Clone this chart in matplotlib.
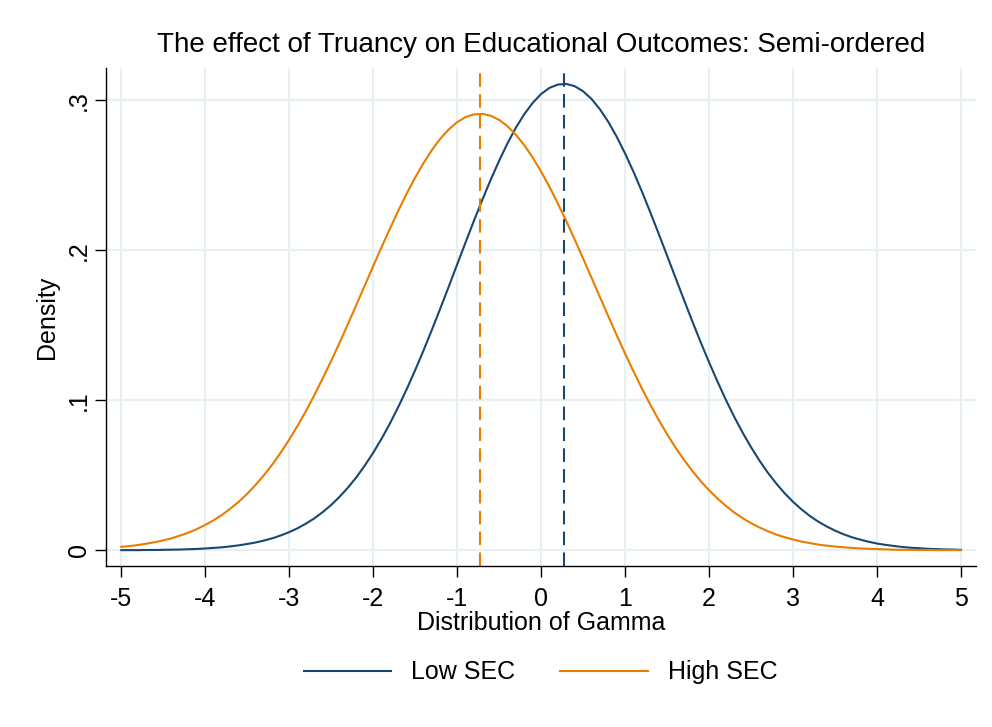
import numpy as np
import matplotlib
matplotlib.use("Agg")
import matplotlib.pyplot as plt

# density at steps of 0.1
gamma = [-5.0, -4.9, -4.8, -4.7, -4.6, -4.5, -4.4, -4.3, -4.2, -4.1,
         -4.0, -3.9, -3.8, -3.7, -3.6, -3.5, -3.4, -3.3, -3.2, -3.1,
         -3.0, -2.9, -2.8, -2.7, -2.6, -2.5, -2.4, -2.3, -2.2, -2.1,
         -2.0, -1.9, -1.8, -1.7, -1.6, -1.5, -1.4, -1.3, -1.2, -1.1,
         -1.0, -0.9, -0.8, -0.7, -0.6, -0.5, -0.4, -0.3, -0.2, -0.1,
         0.0, 0.1, 0.2, 0.3, 0.4, 0.5, 0.6, 0.7, 0.8, 0.9,
         1.0, 1.1, 1.2, 1.3, 1.4, 1.5, 1.6, 1.7, 1.8, 1.9,
         2.0, 2.1, 2.2, 2.3, 2.4, 2.5, 2.6, 2.7, 2.8, 2.9,
         3.0, 3.1, 3.2, 3.3, 3.4, 3.5, 3.6, 3.7, 3.8, 3.9,
         4.0, 4.1, 4.2, 4.3, 4.4, 4.5, 4.6, 4.7, 4.8, 4.9, 5.0]
low_sec = [0.0001, 0.0001, 0.0001, 0.0002, 0.0002, 0.0003, 0.0004, 0.0005, 0.0007, 0.0009,
           0.0012, 0.0016, 0.0020, 0.0026, 0.0033, 0.0042, 0.0052, 0.0065, 0.0080, 0.0099,
           0.0121, 0.0147, 0.0178, 0.0213, 0.0255, 0.0302, 0.0357, 0.0418, 0.0487, 0.0565,
           0.0650, 0.0744, 0.0846, 0.0957, 0.1075, 0.1201, 0.1333, 0.1471, 0.1613, 0.1758,
           0.1906, 0.2052, 0.2197, 0.2337, 0.2471, 0.2597, 0.2714, 0.2818, 0.2908, 0.2983,
           0.3042, 0.3083, 0.3105, 0.3109, 0.3094, 0.3060, 0.3009, 0.2940, 0.2856, 0.2757,
           0.2645, 0.2523, 0.2392, 0.2253, 0.2110, 0.1964, 0.1817, 0.1671, 0.1527, 0.1387,
           0.1253, 0.1125, 0.1003, 0.0889, 0.0784, 0.0687, 0.0598, 0.0517, 0.0445, 0.0380,
           0.0323, 0.0273, 0.0229, 0.0191, 0.0159, 0.0131, 0.0107, 0.0087, 0.0071, 0.0057,
           0.0045, 0.0036, 0.0029, 0.0022, 0.0017, 0.0014, 0.0010, 0.0008, 0.0006, 0.0005, 0.0003]
high_sec = [0.0023, 0.0028, 0.0035, 0.0044, 0.0054, 0.0066, 0.0080, 0.0098, 0.0118, 0.0141,
            0.0169, 0.0200, 0.0236, 0.0278, 0.0324, 0.0377, 0.0436, 0.0501, 0.0573, 0.0652,
            0.0738, 0.0830, 0.0929, 0.1035, 0.1147, 0.1263, 0.1384, 0.1509, 0.1637, 0.1765,
            0.1894, 0.2021, 0.2145, 0.2265, 0.2379, 0.2485, 0.2582, 0.2669, 0.2744, 0.2806,
            0.2854, 0.2888, 0.2906, 0.2909, 0.2897, 0.2869, 0.2827, 0.2770, 0.2700, 0.2618,
            0.2525, 0.2422, 0.2311, 0.2194, 0.2071, 0.1945, 0.1817, 0.1688, 0.1560, 0.1434,
            0.1311, 0.1193, 0.1079, 0.0971, 0.0869, 0.0774, 0.0685, 0.0604, 0.0529, 0.0461,
            0.0400, 0.0345, 0.0296, 0.0252, 0.0214, 0.0181, 0.0152, 0.0127, 0.0105, 0.0087,
            0.0072, 0.0058, 0.0048, 0.0038, 0.0031, 0.0025, 0.0020, 0.0016, 0.0012, 0.0010,
            0.0008, 0.0006, 0.0004, 0.0003, 0.0003, 0.0002, 0.0002, 0.0001, 0.0001, 0.0001, 0.0001]
# means (dashed lines)
low_mean = 0.27
high_mean = -0.73

xticks = [-5, -4, -3, -2, -1, 0, 1, 2, 3, 4, 5]
yticks = [0, 0.1, 0.2, 0.3]
ytick_labels = ["0", ".1", ".2", ".3"]

navy = "#1a476f"
orange = "#e87d00"
grid_col = "#e9f0f2"

plt.rcParams["font.family"] = ["Liberation Sans", "DejaVu Sans"]

fig = plt.figure(figsize=(9.92, 7.27), dpi=100)
ax = fig.add_axes([0.107, 0.221, 0.877, 0.685])

ax.plot(gamma, low_sec, color=navy, lw=1.5, label="Low SEC")
ax.plot(gamma, high_sec, color=orange, lw=1.5, label="High SEC")
ax.axvline(low_mean, color=navy, lw=1.5, ls=(0, (6.5, 3.5)))
ax.axvline(high_mean, color=orange, lw=1.5, ls=(0, (6.5, 3.5)))

ax.set_xlim(-5.18, 5.18)
ax.set_ylim(-0.0107, 0.3213)
ax.set_xticks(xticks)
ax.set_xticklabels([str(t) for t in xticks])
ax.set_yticks(yticks)
ax.set_yticklabels(ytick_labels, rotation=90, va="center")
ax.grid(True, color=grid_col, lw=1.6)
ax.set_axisbelow(True)

for s in ["top", "right"]:
    ax.spines[s].set_visible(False)
ax.spines["left"].set_linewidth(1.0)
ax.spines["bottom"].set_linewidth(1.0)
ax.tick_params(axis="both", labelsize=18, length=8, width=1.0, direction="out")
ax.tick_params(axis="x", pad=7)
ax.tick_params(axis="y", pad=3)

ax.set_xlabel("Distribution of Gamma", fontsize=18, labelpad=0)
ax.set_ylabel("Density", fontsize=18, labelpad=6)
ax.set_title("The effect of Truancy on Educational Outcomes: Semi-ordered", fontsize=20, pad=12)

fig.legend(loc="center", bbox_to_anchor=(0.545, 0.075), ncol=2, frameon=False,
           fontsize=18, handlelength=3.5, handletextpad=0.8, columnspacing=1.8)

fig.savefig("out.png", dpi=100, facecolor="white")
